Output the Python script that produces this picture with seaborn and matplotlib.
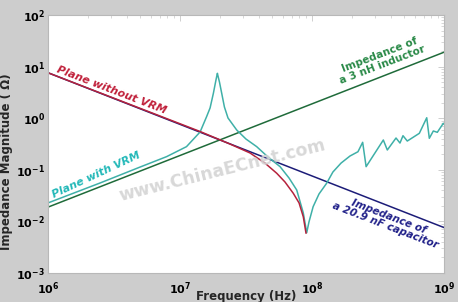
import matplotlib
matplotlib.use("Agg")
import matplotlib.pyplot as plt
import seaborn as sns
import pandas as pd
from matplotlib.ticker import FixedLocator, FixedFormatter, LogLocator, NullFormatter

# ---- data ----
cap_freq = [1e6, 1e9]
cap_z = [7.6, 0.0076]          # 20.9 nF capacitor

ind_freq = [1e6, 1e9]
ind_z = [0.0189, 19.0]         # 3 nH inductor

novrm_freq = [1.0e6, 1.42e7, 2.39e7, 3.39e7, 4.40e7, 5.41e7, 6.24e7, 7.21e7, 7.98e7,
              8.59e7, 9.01e7]
novrm_z = [7.6, 0.552, 0.316, 0.212, 0.135, 0.0855, 0.0581, 0.0351, 0.0228,
           0.0123, 0.00588]

vrm_freq = [1.00e6, 2.48e6, 4.98e6, 7.92e6, 1.12e7, 1.42e7, 1.59e7, 1.69e7, 1.79e7,
            1.86e7, 1.90e7, 1.92e7, 1.94e7, 1.99e7, 2.07e7, 2.17e7, 2.31e7, 2.69e7,
            3.16e7, 3.81e7, 4.64e7, 5.73e7, 6.70e7, 7.66e7, 8.59e7, 9.12e7, 9.48e7,
            1.02e8, 1.13e8, 1.29e8, 1.44e8, 1.66e8, 1.94e8, 2.23e8, 2.42e8, 2.57e8,
            3.47e8, 3.72e8, 4.33e8, 4.64e8, 4.89e8, 5.27e8, 6.50e8, 7.40e8, 7.74e8,
            8.30e8, 8.90e8, 9.88e8, 1.0e9]
vrm_z = [0.0228, 0.0555, 0.113, 0.180, 0.281, 0.541, 1.07, 1.58, 3.04,
         5.04, 6.58, 7.41, 6.58, 5.04, 3.04, 1.65, 1.01, 0.590,
         0.395, 0.281, 0.177, 0.115, 0.0693, 0.0406, 0.0146, 0.00604, 0.0097,
         0.0193, 0.034, 0.0547, 0.0906, 0.135, 0.185, 0.224, 0.341, 0.115,
         0.378, 0.242, 0.413, 0.330, 0.458, 0.361, 0.509, 1.02, 0.408,
         0.565, 0.533, 0.796, 0.773]

x_ticks = [1e6, 1e7, 1e8, 1e9]
x_ticklabels = [r"$\mathbf{10^{6}}$", r"$\mathbf{10^{7}}$", r"$\mathbf{10^{8}}$", r"$\mathbf{10^{9}}$"]
y_ticks = [1e-3, 1e-2, 1e-1, 1e0, 1e1, 1e2]
y_ticklabels = [r"$\mathbf{10^{-3}}$", r"$\mathbf{10^{-2}}$", r"$\mathbf{10^{-1}}$",
                r"$\mathbf{10^{0}}$", r"$\mathbf{10^{1}}$", r"$\mathbf{10^{2}}$"]

# ---- plot ----
sns.set_theme(style="white")
plt.rcParams['font.family'] = ['DejaVu Sans']
plt.rcParams['mathtext.fontset'] = 'dejavusans'

fig = plt.figure(figsize=(4.58, 3.02), dpi=100, facecolor='#cdcdcd')
ax = fig.add_axes([48/458, 1-273/302, (444-48)/458, (273-15)/302])
ax.set_facecolor('white')
ax.set_xscale('log')
ax.set_yscale('log')

c_red = '#b5223c'
c_cyan = '#3fb0a8'
c_green = '#1f6b3a'
c_navy = '#1c1c78'

df_cap = pd.DataFrame({'f': cap_freq, 'z': cap_z})
df_ind = pd.DataFrame({'f': ind_freq, 'z': ind_z})
df_novrm = pd.DataFrame({'f': novrm_freq, 'z': novrm_z})
df_vrm = pd.DataFrame({'f': vrm_freq, 'z': vrm_z})

sns.lineplot(data=df_cap, x='f', y='z', ax=ax, color=c_navy, lw=1.1, estimator=None, sort=False)
sns.lineplot(data=df_ind, x='f', y='z', ax=ax, color=c_green, lw=1.1, estimator=None, sort=False)
sns.lineplot(data=df_vrm, x='f', y='z', ax=ax, color=c_cyan, lw=1.1, estimator=None, sort=False)
sns.lineplot(data=df_novrm, x='f', y='z', ax=ax, color=c_red, lw=1.1, estimator=None, sort=False)

ax.set_xlim(1e6, 1e9)
ax.set_ylim(1e-3, 1e2)

ax.xaxis.set_major_locator(FixedLocator(x_ticks))
ax.xaxis.set_major_formatter(FixedFormatter(x_ticklabels))
ax.yaxis.set_major_locator(FixedLocator(y_ticks))
ax.yaxis.set_major_formatter(FixedFormatter(y_ticklabels))
ax.xaxis.set_minor_locator(LogLocator(base=10, subs=range(2, 10), numticks=20))
ax.yaxis.set_minor_locator(LogLocator(base=10, subs=range(2, 10), numticks=20))
ax.xaxis.set_minor_formatter(NullFormatter())
ax.yaxis.set_minor_formatter(NullFormatter())
ax.tick_params(which='both', direction='in', top=True, right=True, color='#c8c8c8',
               labelsize=8, labelcolor='black')
ax.tick_params(which='major', length=4, width=0.6)
ax.tick_params(axis='x', which='major', pad=5)
ax.tick_params(axis='y', which='major', pad=2)
ax.tick_params(which='minor', length=2, width=0.5)
for s in ax.spines.values():
    s.set_color('#b8b8b8')
    s.set_linewidth(0.8)

ax.set_xlabel('Frequency (Hz)', fontsize=8.5, fontweight='bold')
ax.set_ylabel('Impedance Magnitude ( \u03a9)', fontsize=8.5, fontweight='bold')
ax.xaxis.set_label_coords(0.5, -0.064)
ax.yaxis.set_label_coords(-0.088, 0.43)

def px(x, y):
    return (x / 458, 1 - y / 302)

# watermark
fig.text(*px(222, 170), 'www.ChinaECnet.com', color='#d4d4d4', fontsize=12.5,
         fontweight='bold', rotation=14, ha='center', va='center', alpha=0.9)

fig.text(*px(112, 90), 'Plane without VRM', color='#c0203a', fontsize=7.8,
         fontweight='bold', style='italic', rotation=-21, ha='center', va='center')
fig.text(*px(96, 175), 'Plane with VRM', color='#22b8b8', fontsize=7.8,
         fontweight='bold', style='italic', rotation=25, ha='center', va='center')
fig.text(*px(381, 60), 'Impedance of\na 3 nH inductor', color='#2a8a48', fontsize=7.5,
         fontweight='bold', rotation=21, ha='center', va='center', linespacing=1.0)
fig.text(*px(387, 221), 'Impedance of\na 20.9 nF capacitor', color='#22228a', fontsize=7.5,
         fontweight='bold', style='italic', rotation=-21, ha='center', va='center',
         linespacing=1.0)

fig.savefig('out.png', dpi=100, facecolor=fig.get_facecolor())
